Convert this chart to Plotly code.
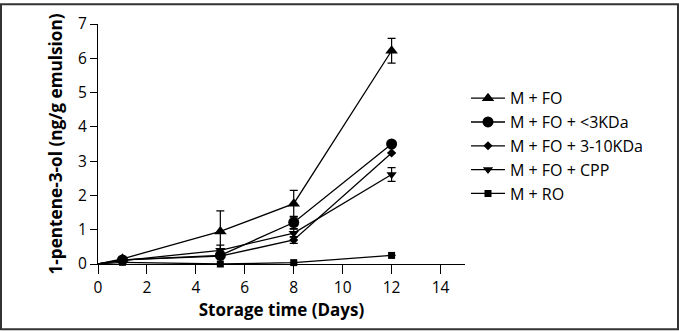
import plotly.graph_objects as go

days = [0, 1, 5, 8, 12]
names = ["M + FO", "M + FO + <3KDa", "M + FO + 3-10KDa", "M + FO + CPP", "M + RO"]
fo = [0, 0.15, 0.95, 1.76, 6.22]
fo_err = [0, 0.0, 0.6, 0.39, 0.36]
lt3 = [0, 0.12, 0.25, 1.21, 3.5]
lt3_err = [0, 0.0, 0.0, 0.18, 0.0]
k310 = [0, 0.12, 0.23, 0.70, 3.24]
k310_err = [0, 0.0, 0.0, 0.1, 0.0]
cpp = [0, 0.10, 0.40, 0.90, 2.61]
cpp_err = [0, 0.0, 0.15, 0.12, 0.2]
ro = [0, 0.05, 0.0, 0.04, 0.25]
ro_err = [0, 0.0, 0.0, 0.0, 0.0]

series = [fo, lt3, k310, cpp, ro]
errs = [fo_err, lt3_err, k310_err, cpp_err, ro_err]
symbols = ["triangle-up", "circle", "diamond", "triangle-down", "square"]
sizes = [11, 11, 7, 9, 7]

FONT = "Open Sans"
fig = go.Figure()
for name, y, e, sym, sz in zip(names, series, errs, symbols, sizes):
    # segment from origin to first measurement (no marker)
    fig.add_trace(go.Scatter(
        x=days[:2], y=y[:2], mode="lines", showlegend=False, hoverinfo="skip",
        line=dict(color="black", width=1.3),
    ))
    fig.add_trace(go.Scatter(
        x=days[1:], y=y[1:], name=name, mode="lines+markers",
        line=dict(color="black", width=1.3),
        marker=dict(symbol=sym, color="black", size=sz),
        error_y=dict(type="data", array=e[1:], visible=True, color="black", thickness=1.2, width=4),
        cliponaxis=False,
    ))

W, H = 679, 331
L, R, T, B = 98, 214, 21, 67
pw = W - L - R
ph = H - T - B

fig.update_layout(
    width=W, height=H,
    margin=dict(l=L, r=R, t=T, b=B),
    paper_bgcolor="white", plot_bgcolor="white",
    font=dict(family=FONT, color="black", size=15),
    showlegend=True,
    legend=dict(x=(466 - L) / pw, y=1 - (79 - T) / ph, xanchor="left", yanchor="top",
                font=dict(size=16, family=FONT), bgcolor="rgba(0,0,0,0)",
                tracegroupgap=0, itemwidth=34),
    xaxis=dict(range=[0, 15], tickvals=[0, 2, 4, 6, 8, 10, 12, 14], showgrid=False, zeroline=False,
               showline=True, linecolor="black", linewidth=1.3, ticks="outside", ticklen=9,
               tickwidth=1.3, tickcolor="black", tickfont=dict(size=15.5),
               title=dict(text="<b>Storage time (Days)</b>", font=dict(size=17), standoff=4)),
    yaxis=dict(range=[0, 7], dtick=1, showgrid=False, zeroline=False,
               showline=True, linecolor="black", linewidth=1.3, ticks="outside", ticklen=7,
               tickwidth=1.3, tickcolor="black", tickfont=dict(size=15.5),
               title=dict(text="<b>1-pentene-3-ol (ng/g emulsion)</b>", font=dict(size=17.2), standoff=10)),
    shapes=[dict(type="rect", xref="paper", yref="paper",
                 x0=(-L + 1) / pw, x1=(W - L - 1) / pw,
                 y0=(-B + 1) / ph, y1=(H - B - 1) / ph,
                 line=dict(color="#333333", width=2), fillcolor="rgba(0,0,0,0)", layer="below")],
)

fig.write_html("out.html")
